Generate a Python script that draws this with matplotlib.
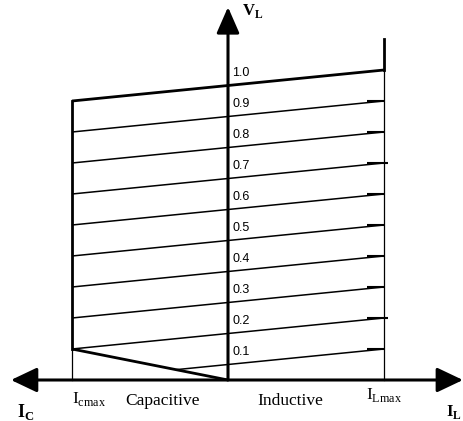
# SVC-style V-I characteristic sketch (VL vs IC / IL)
import matplotlib
matplotlib.use("Agg")
import matplotlib.pyplot as plt
import numpy as np

plt.rcParams["mathtext.fontset"] = "custom"
plt.rcParams["mathtext.rm"] = "Liberation Serif"
plt.rcParams["mathtext.bf"] = "Liberation Serif:bold"

# data (per-unit)
v_ref = [0.1, 0.2, 0.3, 0.4, 0.5, 0.6, 0.7, 0.8, 0.9, 1.0]
v_labels = ["0.1", "0.2", "0.3", "0.4", "0.5", "0.6", "0.7", "0.8", "0.9", "1.0"]
slope = 0.05          # droop per unit current
i_cmax = -1.0
i_lmax = 1.0
v_knee = 0.1          # capacitive limit meets the diagonal here
v_top_right = 1.1     # right limit line extends above 1.0
tick_overshoot = [0, 1, 0, 0, 0, 0, 1, 0, 0]   # small marks at right ends (0.1..0.9)

fig = plt.figure(figsize=(4.64, 4.21), dpi=100)
ax = fig.add_axes([0, 0, 1, 1])
ax.set_xlim(-228 / 156, 236 / 156)
ax.set_ylim(-41 / 310, 380 / 310)
ax.axis("off")

# axes with arrows
ax.annotate("", xy=(1.506, 0), xytext=(-1.391, 0),
            arrowprops=dict(arrowstyle="<|-|>,head_length=0.8,head_width=0.38",
                            mutation_scale=20, lw=2.2, color="black",
                            shrinkA=0, shrinkB=0))
ax.annotate("", xy=(0, 1.203), xytext=(0, 0),
            arrowprops=dict(arrowstyle="-|>,head_length=0.8,head_width=0.35",
                            mutation_scale=20, lw=2.2, color="black",
                            shrinkA=0, shrinkB=0))

def line_v(v, i):
    return v + slope * (np.asarray(i) - i_lmax)

# characteristic lines
for k, v in enumerate(v_ref):
    if k == 0:
        # starts where it meets the diagonal V = -v_knee * I / |i_cmax|
        i0 = (slope * i_lmax - v) / (slope + v_knee / abs(i_cmax))
    else:
        i0 = i_cmax
    xs = np.array([i0, i_lmax])
    lw = 2.0 if k == len(v_ref) - 1 else 1.1
    ax.plot(xs, line_v(v, xs), color="black", lw=lw, solid_capstyle="butt")
    ax.text(0.026, line_v(v, 0) + 0.03, v_labels[k], fontsize=9,
            family="Liberation Sans", ha="left", va="baseline")

# small marks at the right ends
for k, v in enumerate(v_ref[:-1]):
    x1 = i_lmax + 0.025 * tick_overshoot[k]
    ax.plot([0.89, x1], [v, v], color="black", lw=1.5, solid_capstyle="butt")

# limit lines
ax.plot([i_cmax, i_cmax], [0, v_knee], color="black", lw=0.9)
ax.plot([i_cmax, i_cmax], [v_knee, line_v(v_ref[-1], i_cmax)], color="black", lw=2.0)
ax.plot([i_lmax, i_lmax], [0, v_ref[-1]], color="black", lw=0.9)
ax.plot([i_lmax, i_lmax], [v_ref[-1], v_top_right], color="black", lw=2.0)
ax.plot([i_cmax, 0], [v_knee, 0], color="black", lw=2.0, solid_capstyle="butt")

# text
ax.text(0.09, 1.178, r"$\mathbf{V}_{\mathbf{L}}$", fontsize=12, ha="left", va="baseline")
ax.text(-1.35, -0.12, r"$\mathbf{I}_{\mathbf{C}}$", fontsize=13, ha="left", va="baseline")
ax.text(1.40, -0.117, r"$\mathbf{I}_{\mathbf{L}}$", fontsize=12, ha="left", va="baseline")
ax.text(i_cmax, -0.075, r"$\mathrm{I}_{\mathrm{cmax}}$", fontsize=12.5, ha="left", va="baseline")
ax.text(1.0, -0.06, r"$\mathrm{I}_{\mathrm{Lmax}}$", fontsize=12.5, ha="center", va="baseline")
ax.text(-0.42, -0.08, "Capacitive", fontsize=12.5, family="Liberation Serif",
        ha="center", va="baseline")
ax.text(0.4, -0.08, "Inductive", fontsize=12.5, family="Liberation Serif",
        ha="center", va="baseline")

fig.savefig("out.png", dpi=100)
